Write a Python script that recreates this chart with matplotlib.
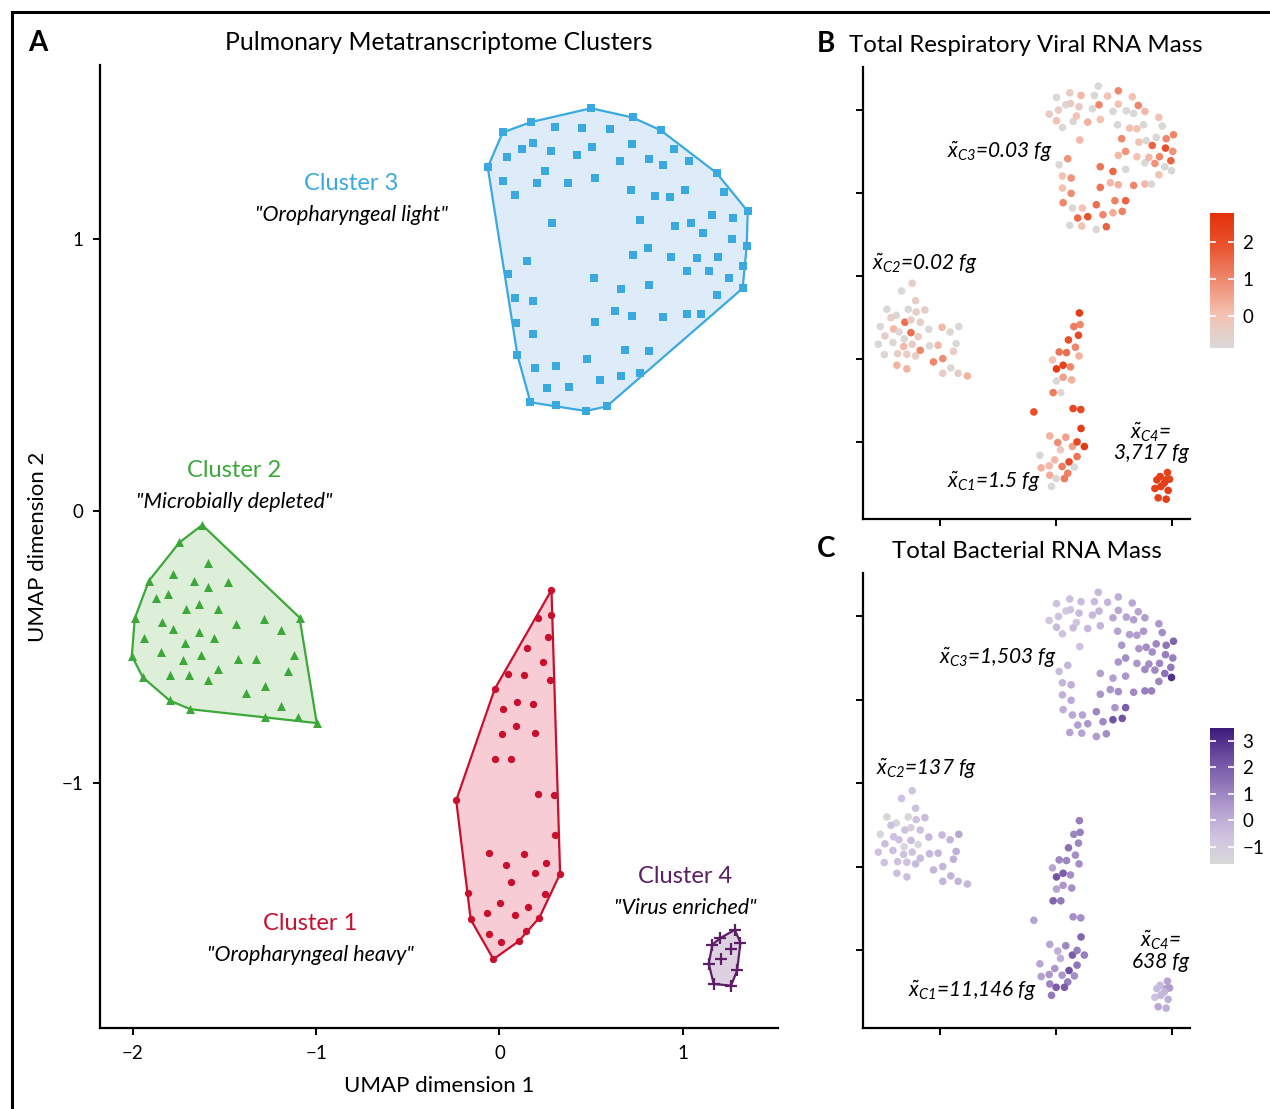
import matplotlib
matplotlib.use("Agg")
import matplotlib.pyplot as plt
import numpy as np
from matplotlib.colors import LinearSegmentedColormap, Normalize
from matplotlib.lines import Line2D
from matplotlib.cm import ScalarMappable

# Fonts: Lato for text, italic Lato for math annotations.
plt.rcParams['font.family'] = ['Lato', 'DejaVu Sans']
plt.rcParams['mathtext.fontset'] = 'custom'
plt.rcParams['mathtext.rm'] = 'Lato:italic'
plt.rcParams['mathtext.it'] = 'Lato:italic'

# ---------------- Panel A: UMAP coordinates per cluster ----------------
c3_x = [0.500, 0.727, 0.880, 1.185, 1.355, 1.349, 1.327, 1.327, 0.768, 0.585, 0.471, 0.307, 0.169,
        0.098, 0.089, 0.083, 0.045, -0.064, 0.018, 0.171,
        0.302, 0.449, 0.602, 0.182, 0.122, 0.040, 0.280, 0.422, 0.504, 0.722, 0.951, 0.656, 0.815,
        0.891, 1.033, 0.247, 0.018, 0.203, 0.373, 0.520, 0.083, 0.716, 0.847, 0.933, 1.011, 1.224,
        0.285, 0.765, 0.956, 1.044, 1.158, 1.273, 1.109, 1.267, 0.809, 0.727, 0.935, 1.076, 1.191,
        0.149, 1.022, 1.142, 1.251, 0.514, 0.815, 0.662, 1.185, 0.182, 0.629, 0.722, 0.891, 1.022,
        1.098, 0.520, 0.182, 0.684, 0.815, 0.476, 0.193, 0.307, 0.547, 0.662, 0.258, 0.378]
c3_y = [1.481, 1.447, 1.400, 1.243, 1.102, 0.973, 0.900, 0.819, 0.507, 0.385, 0.368, 0.389, 0.400,
        0.574, 0.690, 0.782, 0.872, 1.264, 1.392, 1.430,
        1.411, 1.407, 1.403, 1.352, 1.333, 1.300, 1.322, 1.308, 1.337, 1.348, 1.333, 1.286, 1.293,
        1.271, 1.286, 1.249, 1.213, 1.208, 1.205, 1.223, 1.161, 1.179, 1.157, 1.153, 1.179, 1.172,
        1.061, 1.072, 1.047, 1.058, 1.087, 1.076, 1.021, 0.999, 0.969, 0.940, 0.933, 0.929, 0.933,
        0.918, 0.881, 0.881, 0.856, 0.856, 0.833, 0.815, 0.793, 0.771, 0.734, 0.716, 0.712, 0.723,
        0.723, 0.697, 0.653, 0.591, 0.587, 0.558, 0.528, 0.532, 0.481, 0.495, 0.451, 0.458]

c2_x = [-1.622, -1.746, -1.913, -1.990, -2.006, -1.946, -1.800, -1.687, -1.278, -0.997, -1.091,
        -1.591, -1.780, -1.668, -1.588, -1.482, -1.873, -1.811, -1.708, -1.642, -1.535, -1.840,
        -1.780, -1.640, -1.560, -1.436, -1.286, -1.193, -1.938, -1.717, -1.846, -1.630, -1.728,
        -1.428, -1.330, -1.120, -1.535, -1.797, -1.693, -1.589, -1.155, -1.384, -1.278, -1.193, -1.100]
c2_y = [-0.051, -0.115, -0.256, -0.394, -0.532, -0.611, -0.696, -0.728, -0.758, -0.779, -0.391,
        -0.189, -0.232, -0.257, -0.279, -0.261, -0.319, -0.305, -0.360, -0.343, -0.361, -0.409,
        -0.435, -0.445, -0.468, -0.413, -0.397, -0.436, -0.466, -0.486, -0.519, -0.529, -0.548,
        -0.543, -0.542, -0.527, -0.580, -0.603, -0.604, -0.621, -0.586, -0.668, -0.641, -0.718, -0.756]

c1_x = [0.284, 0.284, 0.298, 0.331, 0.218, 0.105, -0.033, -0.157, -0.171, -0.236, -0.026, 0.044,
        0.211, 0.264, 0.151, 0.235, 0.133, 0.277, 0.020, 0.097, 0.184, 0.091, 0.015, 0.193, -0.022,
        0.065, 0.211, 0.302, -0.056, 0.133, 0.034, 0.253, 0.196, 0.065, 0.247, 0.002, -0.069, 0.086,
        0.158, 0.143, -0.055, 0.009]
c1_y = [-0.290, -0.382, -1.042, -1.333, -1.494, -1.581, -1.647, -1.501, -1.402, -1.063, -0.654, -0.598,
        -0.394, -0.462, -0.503, -0.555, -0.604, -0.622, -0.727, -0.700, -0.710, -0.788, -0.820, -0.816,
        -0.911, -0.911, -1.038, -1.192, -1.255, -1.260, -1.299, -1.294, -1.330, -1.363, -1.409, -1.441,
        -1.478, -1.485, -1.455, -1.544, -1.555, -1.583]

c4_x = [1.284, 1.315, 1.297, 1.264, 1.169, 1.142, 1.162, 1.206, 1.266, 1.210]
c4_y = [-1.539, -1.586, -1.688, -1.744, -1.738, -1.663, -1.593, -1.569, -1.610, -1.645]

cluster_names = ['Cluster 1', 'Cluster 2', 'Cluster 3', 'Cluster 4']
cluster_tags = ['"Oropharyngeal heavy"', '"Microbially depleted"', '"Oropharyngeal light"', '"Virus enriched"']

# ---------------- Panels B/C: embedding coordinates and log10 masses ----------------
u3_x = [0.366, 0.006, 0.120, 0.217, 0.332, 0.446, 0.538, 0.658, -0.057, 0.023, 0.086, 0.126, 0.200,
        0.315, 0.372, 0.538, 0.710, 0.492, 0.607, 0.670, 0.767, 0.006, 0.057, 0.149, 0.177, 0.275,
        0.383, 0.532, 0.635, 0.698, 0.755, 0.887, 0.916, 0.206, 0.567, 0.715, 0.778, 0.830, 0.864,
        0.950, 1.013, 0.944, 1.007, 0.601, 0.538, 0.698, 0.767, 0.801, 0.853, 0.893, 0.990, 0.938,
        0.996, 0.887, 0.103, 0.029, 0.383, 0.492, 0.601, 0.057, 0.132, 0.057, 0.132, 0.383, 0.469,
        0.538, 0.670, 0.767, 0.824, 0.063, 0.143, 0.229, 0.349, 0.509, 0.601, 0.189, 0.275, 0.406,
        0.492, 0.572, 0.120, 0.223, 0.349, 0.435]
u3_y = [2.289, 2.153, 2.209, 2.177, 2.177, 2.169, 2.233, 2.161, 1.952, 2.000, 2.064, 2.080, 2.040,
        2.016, 2.064, 2.072, 2.056, 1.984, 1.992, 1.960, 1.984, 1.871, 1.791, 1.863, 1.928, 1.855,
        1.888, 1.823, 1.783, 1.775, 1.823, 1.912, 1.807, 1.639, 1.655, 1.614, 1.631, 1.574, 1.671,
        1.655, 1.703, 1.542, 1.502, 1.502, 1.454, 1.438, 1.365, 1.430, 1.357, 1.438, 1.390, 1.317,
        1.269, 1.221, 1.414, 1.341, 1.317, 1.261, 1.285, 1.205, 1.181, 1.060, 0.996, 1.068, 1.124,
        1.100, 1.092, 1.108, 1.108, 0.884, 0.819, 0.819, 0.859, 0.908, 0.908, 0.699, 0.715, 0.739,
        0.763, 0.779, 0.610, 0.602, 0.562, 0.594]
viral_c3 = [-0.8, -0.8, -0.4, 0.2, -0.8, 0.0, 1.0, 0.0, -0.3, -0.3, -0.8, -0.3, -0.3, -0.8, 1.0, 0.0,
            1.0, -0.8, -0.8, -0.8, 0.2, 0.0, -0.8, -0.8, 0.0, 0.3, 0.0, -0.8, 0.0, 0.0, -0.8, 0.0,
            -0.8, 0.2, 1.0, 0.0, -0.8, 1.6, -0.8, 1.0, 1.0, 2.0, 0.8, 0.8, 0.2, 0.0, -0.8, 0.2, 0.8,
            1.0, 1.6, -0.8, -0.8, 0.0, 0.8, -0.8, 1.3, 1.5, -0.8, 0.0, 0.8, 0.0, 0.9, 1.3, 0.2, 0.3,
            1.0, 0.2, -0.8, 1.0, -0.8, 0.0, 1.4, 1.1, 1.6, 1.5, 1.9, 1.0, 0.4, 1.1, -0.8, 0.0, -0.8, 1.6]
bact_c3 = [-0.3, -0.6, -0.5, -0.4, -0.4, -0.2, 0.0, 0.2, -0.8, -0.6, -1.0, -0.6, -0.4, -0.3, -0.2, 0.2,
           0.3, 0.2, 0.3, 0.4, 0.5, -0.4, -0.6, -0.4, -0.8, -0.3, -0.2, 0.3, 0.4, 0.5, 0.6, 0.6, 0.8,
           -0.6, 0.6, 0.6, 0.8, 0.8, 1.0, 1.4, 1.8, 1.2, 1.2, 0.8, 0.6, 0.6, 0.9, 0.8, 0.9, 1.0, 1.3,
           1.5, 3.0, 1.0, -0.2, -0.4, 0.4, 0.4, 0.6, -0.2, 0.0, -0.1, 0.1, 0.6, 0.6, 0.8, 0.9, 1.2, 1.2,
           0.0, 0.2, 0.3, 1.0, 0.6, 2.0, 0.4, 0.6, 0.9, 2.2, 2.2, 0.3, 0.3, 0.5, 0.8]

u2_x = [-1.236, -1.328, -1.207, -1.454, -1.373, -1.419, -1.270, -1.202, -1.127, -1.299, -1.247, -1.167,
        -1.511, -1.396, -1.350, -1.247, -1.471, -1.305, -1.185, -1.093, -0.979, -0.910, -0.835, -1.528,
        -1.402, -1.310, -1.236, -1.087, -1.013, -0.858, -1.476, -1.362, -1.282, -1.207, -1.167, -1.053,
        -0.973, -0.881, -1.368, -1.282, -0.904, -0.973, -0.841, -0.761]
u2_y = [-0.088, -0.181, -0.297, -0.402, -0.474, -0.502, -0.402, -0.434, -0.410, -0.558, -0.530, -0.558,
        -0.610, -0.639, -0.675, -0.683, -0.723, -0.759, -0.731, -0.643, -0.618, -0.675, -0.610, -0.823,
        -0.803, -0.851, -0.823, -0.843, -0.835, -0.815, -0.948, -0.936, -0.944, -0.964, -0.896, -1.036,
        -0.996, -0.908, -1.076, -1.120, -1.108, -1.173, -1.173, -1.205]
viral_c2 = [-0.4, -0.8, -0.4, -0.8, -0.8, -0.4, -0.8, -0.4, -0.4, 1.4, -0.4, -0.4, -0.8, 0.2, -0.8, 1.4,
            -0.4, -0.8, -0.4, -0.8, 0.2, -0.8, -0.8, -0.8, -0.8, 0.2, -0.4, -0.8, 0.2, -0.8, -0.8, -0.4,
            -0.4, -0.4, 1.0, 1.0, 0.9, -0.4, 0.3, 0.3, -0.8, -0.4, -0.4, 0.3]
bact_c2 = [-0.7, -0.6, -0.6, -1.5, -1.5, -0.6, -1.5, -0.6, -0.4, -0.6, -1.2, -0.6, -1.5, -0.6, -0.6,
           -0.4, -0.5, -1.5, -1.5, -0.3, -0.3, -0.2, 0.2, -0.6, -0.5, -0.6, -0.6, -0.3, -0.3, 0.0,
           -0.6, -0.6, -0.6, -0.4, -0.4, -0.2, -0.2, -0.1, -0.5, -0.5, -0.2, -0.2, -0.2, -0.3]

u1_x = [0.203, 0.209, 0.155, 0.195, 0.109, 0.169, 0.029, 0.092, 0.200, -0.029, 0.006, 0.063, 0.126,
        0.063, 0.006, 0.137, -0.023, 0.043, -0.189, 0.149, 0.215, 0.217, -0.052, 0.086, 0.017, 0.143,
        0.183, 0.246, 0.040, -0.137, -0.009, 0.183, 0.114, -0.126, -0.057, 0.054, 0.160, -0.052,
        0.003, 0.103, 0.074, -0.037]
u1_y = [-0.446, -0.586, -0.610, -0.715, -0.771, -0.859, -0.916, -0.924, -0.964, -1.012, -1.120, -1.076,
        -1.096, -1.221, -1.265, -1.253, -1.406, -1.406, -1.639, -1.598, -1.610, -1.839, -1.928, -1.944,
        -2.008, -2.056, -2.000, -2.056, -2.096, -2.161, -2.217, -2.177, -2.241, -2.313, -2.289, -2.297,
        -2.305, -2.402, -2.442, -2.378, -2.442, -2.538]
viral_c1 = [2.5, 1.0, 1.2, 2.1, 2.0, 1.0, 1.3, 1.4, 0.3, 0.0, 2.5, 2.3, 1.0, 0.6, -0.8, 0.3, 1.2, -0.8,
            2.0, 2.2, 2.2, 2.5, 0.3, 0.6, 0.9, 0.6, 2.2, 2.5, -0.3, -0.8, 0.2, 1.3, 2.1, 0.3, 0.2, 1.2,
            -0.8, 0.4, -0.8, 1.1, 1.2, -0.8]
bact_c1 = [1.2, 1.2, 1.0, 1.0, 1.5, 0.8, 1.0, 1.0, 0.8, 0.2, 2.2, 2.0, 0.8, 0.6, 0.3, 0.8, 1.8, 1.3,
           0.3, 0.8, 0.8, 1.8, 0.2, 1.0, 0.0, 2.0, 1.2, 1.2, 0.0, 0.2, 0.6, 1.4, 2.3, 0.4, 0.6, 0.6,
           0.8, 1.0, 2.0, 1.2, 2.0, 1.3]

u4_x = [0.961, 0.898, 0.950, 0.979, 0.870, 0.853, 0.904, 0.967, 0.881, 0.950, 0.933]
u4_y = [-2.369, -2.418, -2.458, -2.450, -2.458, -2.562, -2.538, -2.586, -2.675, -2.691, -2.498]
viral_c4 = [2.3, 2.4, 2.4, 2.3, 2.4, 2.3, 2.4, 2.4, 2.3, 2.4, 2.4]
bact_c4 = [0.3, -0.4, 0.4, 0.5, -0.4, -0.6, -0.3, 0.0, 0.2, 0.0, -0.2]

viral_medians = ['0.02', '1.5', '0.03', '3,717']
bact_medians = ['137', '11,146', '1,503', '638']


# Convex hull (monotone chain) of a point cloud.
def convex_hull(xs, ys):
    pts = sorted(set(zip(xs, ys)))

    def cross(o, a, b):
        return (a[0] - o[0]) * (b[1] - o[1]) - (a[1] - o[1]) * (b[0] - o[0])

    lower, upper = [], []
    for p in pts:
        while len(lower) >= 2 and cross(lower[-2], lower[-1], p) <= 0:
            lower.pop()
        lower.append(p)
    for p in reversed(pts):
        while len(upper) >= 2 and cross(upper[-2], upper[-1], p) <= 0:
            upper.pop()
        upper.append(p)
    hull = np.array(lower[:-1] + upper[:-1])
    return hull[:, 0], hull[:, 1]


# Shared styling for the ggplot-like axes.
def style_axes(ax):
    for side in ['top', 'right']:
        ax.spines[side].set_visible(False)
    for side in ['left', 'bottom']:
        ax.spines[side].set_linewidth(1.6)
    ax.tick_params(length=5, width=1.4, direction='out', pad=7)


fig = plt.figure(figsize=(12.7, 11.09), dpi=100)

# Outer frame lines (top and left).
fig.add_artist(Line2D([12 / 1270, 12 / 1270], [0, 1 - 12 / 1109], color='black', lw=2.2))
fig.add_artist(Line2D([12 / 1270, 1], [1 - 12 / 1109, 1 - 12 / 1109], color='black', lw=2.2))

# ---------------- Panel A ----------------
ax_a = fig.add_axes([0.0787, 0.0730, 0.5339, 0.8684])
style_axes(ax_a)
clusters = [
    (c1_x, c1_y, '#c8102e', '#f7ccd4', 'o', 28),
    (c2_x, c2_y, '#3ca83a', '#ddeed9', '^', 42),
    (c3_x, c3_y, '#3aa9e0', '#ddecf8', 's', 28),
    (c4_x, c4_y, '#5c1f66', '#ddd0e1', '+', 70),
]
for xs, ys, col, fill, mk, sz in clusters:
    hx, hy = convex_hull(xs, ys)
    ax_a.fill(hx, hy, facecolor=fill, edgecolor=col, lw=1.6, zorder=1)
    ax_a.scatter(xs, ys, marker=mk, s=sz, color=col, linewidths=1.6 if mk == '+' else 0, zorder=2)

ax_a.set_xlim(-2.18, 1.52)
ax_a.set_ylim(-1.90, 1.64)
ax_a.set_xticks([-2, -1, 0, 1])
ax_a.set_yticks([-1, 0, 1])
ax_a.tick_params(labelsize=13.5)
ax_a.set_xlabel('UMAP dimension 1', fontsize=16)
ax_a.set_ylabel('UMAP dimension 2', fontsize=16)
ax_a.xaxis.set_label_coords(0.5, -0.050)
ax_a.yaxis.set_label_coords(-0.076, 0.5)

# Cluster labels and descriptors.
label_pos = [(-1.031, -1.515), (-1.446, 0.151), (-0.807, 1.206), (1.015, -1.342)]
label_cols = ['#c8102e', '#3ca83a', '#3aa9e0', '#5c1f66']
for name, tag, (lx, ly), col in zip(cluster_names, cluster_tags, label_pos, label_cols):
    ax_a.text(lx, ly, name, color=col, fontsize=17, ha='center', va='center')
    ax_a.text(lx, ly - 0.118, tag, fontsize=15.5, style='italic', ha='center', va='center')

fig.text(439 / 1270, 1 - 43 / 1109, 'Pulmonary Metatranscriptome Clusters', fontsize=17.8, ha='center', va='center')
fig.text(38 / 1270, 1 - 43 / 1109, 'A', fontsize=20, weight='bold', ha='center', va='center')

# ---------------- Panels B and C ----------------
all_x = u1_x + u2_x + u3_x + u4_x
all_y = u1_y + u2_y + u3_y + u4_y
viral = viral_c1 + viral_c2 + viral_c3 + viral_c4
bact = bact_c1 + bact_c2 + bact_c3 + bact_c4

viral_cmap = LinearSegmentedColormap.from_list(
    'viral', ['#d9d9d9', '#f4c1b1', '#ef8a70', '#e9542f', '#e3300a'])
bact_cmap = LinearSegmentedColormap.from_list(
    'bact', ['#d9d9d9', '#cfc3e0', '#b4a0cf', '#8e73b7', '#6a4a9e', '#3b1a7a'])
viral_norm = Normalize(-0.86, 2.77)
bact_norm = Normalize(-1.65, 3.49)

ax_b = fig.add_axes([0.6795, 0.5320, 0.2575, 0.4076])
ax_c = fig.add_axes([0.6795, 0.0730, 0.2575, 0.4103])
cax_b = fig.add_axes([0.9528, 0.6862, 0.0189, 0.1217])
cax_c = fig.add_axes([0.9528, 0.2209, 0.0189, 0.1226])

# Annotation anchors per panel: (C3, C2, C1, C4).
note_pos_b = [(-0.48, 1.50), (-1.13, 0.15), (-0.53, -2.48), (0.82, -2.0)]
note_pos_c = [(-0.50, 1.50), (-1.11, 0.17), (-0.72, -2.48), (0.90, -2.0)]

panels = [
    (ax_b, cax_b, viral, viral_cmap, viral_norm, viral_medians, [0, 1, 2], note_pos_b),
    (ax_c, cax_c, bact, bact_cmap, bact_norm, bact_medians, [-1, 0, 1, 2, 3], note_pos_c),
]
for ax, cax, vals, cmap, norm, meds, cticks, npos in panels:
    style_axes(ax)
    ax.scatter(all_x, all_y, c=vals, cmap=cmap, norm=norm, s=30, linewidths=0)
    ax.set_xlim(-1.66, 1.155)
    ax.set_ylim(-2.93, 2.52)
    ax.set_xticks([-1, 0, 1])
    ax.set_yticks([-2, -1, 0, 1, 2])
    ax.set_xticklabels([])
    ax.set_yticklabels([])
    # Median annotations per cluster.
    ax.text(*npos[0], r'$\tilde{x}_{C3}$=' + meds[2] + ' fg', fontsize=15, style='italic', ha='center', va='center')
    ax.text(*npos[1], r'$\tilde{x}_{C2}$=' + meds[0] + ' fg', fontsize=15, style='italic', ha='center', va='center')
    ax.text(*npos[2], r'$\tilde{x}_{C1}$=' + meds[1] + ' fg', fontsize=15, style='italic', ha='center', va='center')
    ax.text(*npos[3], r'$\tilde{x}_{C4}$=' + '\n' + meds[3] + ' fg', fontsize=15, style='italic',
            ha='center', va='center', linespacing=0.95)
    # Colour bar with white inner ticks.
    cb = fig.colorbar(ScalarMappable(norm=norm, cmap=cmap), cax=cax, ticks=cticks)
    cb.outline.set_visible(False)
    cax.tick_params(direction='in', length=4, width=1.2, color='white', left=True, right=True, labelsize=13.5, pad=6)

fig.text(1026 / 1270, 1 - 45 / 1109, 'Total Respiratory Viral RNA Mass', fontsize=17.3, ha='center', va='center')
fig.text(1027 / 1270, 1 - 551 / 1109, 'Total Bacterial RNA Mass', fontsize=17.3, ha='center', va='center')
fig.text(826 / 1270, 1 - 44 / 1109, 'B', fontsize=20, weight='bold', ha='center', va='center')
fig.text(826 / 1270, 1 - 549 / 1109, 'C', fontsize=20, weight='bold', ha='center', va='center')

fig.savefig('out.png', dpi=100)
